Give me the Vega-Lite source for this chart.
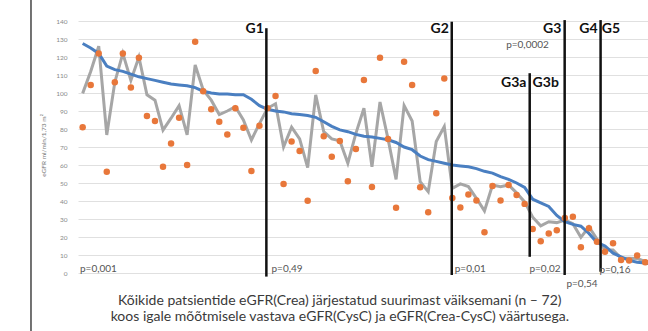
{
  "$schema": "https://vega.github.io/schema/vega-lite/v6.json",
  "width": 570,
  "height": 252,
  "autosize": "none",
  "padding": {"left": 78, "top": 21, "right": 0, "bottom": 58},
  "background": "white",
  "config": {"view": {"stroke": null}, "font": "Lato"},
  "datasets": {
    "pts": [
      {"x":0,"crea":127.5,"cys":81,"crc":99.8},
      {"x":1,"crea":125,"cys":104.4,"crc":112},
      {"x":2,"crea":122,"cys":122,"crc":126},
      {"x":3,"crea":115,"cys":56.3,"crc":76.7},
      {"x":4,"crea":113,"cys":106,"crc":106},
      {"x":5,"crea":112,"cys":122,"crc":122},
      {"x":6,"crea":110.5,"cys":103,"crc":107},
      {"x":7,"crea":109,"cys":119.6,"crc":120},
      {"x":8,"crea":108,"cys":87.2,"crc":99},
      {"x":9,"crea":107,"cys":84.4,"crc":96},
      {"x":10,"crea":106,"cys":59,"crc":79.4},
      {"x":11,"crea":105,"cys":72,"crc":86},
      {"x":12,"crea":104.5,"cys":86.3,"crc":93},
      {"x":13,"crea":104,"cys":60,"crc":76.7},
      {"x":14,"crea":103,"cys":128.5,"crc":115.6},
      {"x":15,"crea":101,"cys":101,"crc":101.7},
      {"x":16,"crea":100,"cys":91,"crc":96},
      {"x":17,"crea":99.5,"cys":84,"crc":88},
      {"x":18,"crea":99.5,"cys":77,"crc":90},
      {"x":19,"crea":99,"cys":91.5,"crc":92.4},
      {"x":20,"crea":99,"cys":80.7,"crc":85},
      {"x":21,"crea":96.5,"cys":56.7,"crc":73.9},
      {"x":22,"crea":93,"cys":81.8,"crc":83},
      {"x":23,"crea":91,"cys":91.5,"crc":91.5},
      {"x":24,"crea":90,"cys":98.3,"crc":94},
      {"x":25,"crea":89.5,"cys":49.4,"crc":70},
      {"x":26,"crea":88.5,"cys":73,"crc":81},
      {"x":27,"crea":88,"cys":67.8,"crc":74.5},
      {"x":28,"crea":87.5,"cys":40.2,"crc":58.5},
      {"x":29,"crea":86.5,"cys":112.2,"crc":99},
      {"x":30,"crea":84,"cys":76,"crc":78.5},
      {"x":31,"crea":81.5,"cys":64.6,"crc":74.5},
      {"x":32,"crea":79.5,"cys":73.3,"crc":73.5},
      {"x":33,"crea":78.5,"cys":51,"crc":61},
      {"x":34,"crea":77,"cys":68.9,"crc":77.6},
      {"x":35,"crea":76,"cys":107.2,"crc":91.5},
      {"x":36,"crea":75.5,"cys":47.8,"crc":59},
      {"x":37,"crea":74.8,"cys":119.6,"crc":95},
      {"x":38,"crea":74,"cys":74.4,"crc":74.5},
      {"x":39,"crea":72.5,"cys":36.3,"crc":52},
      {"x":40,"crea":70,"cys":117.4,"crc":93},
      {"x":41,"crea":68.5,"cys":104.4,"crc":84.4},
      {"x":42,"crea":65,"cys":47.6,"crc":50.7},
      {"x":43,"crea":63,"cys":33.7,"crc":45.2},
      {"x":44,"crea":62,"cys":88.7,"crc":73},
      {"x":45,"crea":61,"cys":108,"crc":81.3},
      {"x":46,"crea":60,"cys":41.7,"crc":47},
      {"x":47,"crea":59.5,"cys":36.4,"crc":49.5},
      {"x":48,"crea":59,"cys":43.6,"crc":48},
      {"x":49,"crea":58,"cys":40.3,"crc":41.5},
      {"x":50,"crea":56.5,"cys":22.6,"crc":34.5},
      {"x":51,"crea":55.5,"cys":48.3,"crc":48.9},
      {"x":52,"crea":53.5,"cys":40.3,"crc":48},
      {"x":53,"crea":52,"cys":48.9,"crc":48.9},
      {"x":54,"crea":50,"cys":43.3,"crc":44.5},
      {"x":55,"crea":47.5,"cys":38.4,"crc":39.5},
      {"x":56,"crea":41,"cys":24.5,"crc":31},
      {"x":57,"crea":39,"cys":17.7,"crc":26.2},
      {"x":58,"crea":37,"cys":22,"crc":28.5},
      {"x":59,"crea":32,"cys":23.7,"crc":28},
      {"x":60,"crea":28.5,"cys":30.6,"crc":29.4},
      {"x":61,"crea":27,"cys":31.3,"crc":27.4},
      {"x":62,"crea":26,"cys":14.3,"crc":19.8},
      {"x":63,"crea":22,"cys":24.8,"crc":25.7},
      {"x":64,"crea":17,"cys":17.4,"crc":18.8},
      {"x":65,"crea":15,"cys":11.8,"crc":12.8},
      {"x":66,"crea":11,"cys":16.5,"crc":12.8},
      {"x":67,"crea":9,"cys":7.2,"crc":8.2},
      {"x":68,"crea":7,"cys":7,"crc":8.2},
      {"x":69,"crea":6,"cys":9.7,"crc":8},
      {"x":70,"crea":5.5,"cys":6,"crc":6.5},
      {"x":71,"crea":5,"cys":5,"crc":6}
    ],
    "vlines": [
      {"x":22.86,"y":136,"y2":-2},
      {"x":45.93,"y":139.6,"y2":-1.1},
      {"x":55.63,"y":111,"y2":9},
      {"x":59.98,"y":140.5,"y2":-1.1},
      {"x":64.45,"y":140.5,"y2":0.7}
    ],
    "glabR": [
      {"x":22.67,"y":133.6,"t":"G1"},
      {"x":45.7,"y":133.6,"t":"G2"},
      {"x":59.7,"y":133.6,"t":"G3"},
      {"x":64.2,"y":133.6,"t":"G4"},
      {"x":55.35,"y":103.5,"t":"G3a"}
    ],
    "glabL": [
      {"x":64.6,"y":133.6,"t":"G5"},
      {"x":55.99,"y":103.5,"t":"G3b"}
    ],
    "plab": [
      {"x":-0.33,"y":0.5,"t":"p=0,001"},
      {"x":23.5,"y":0.5,"t":"p=0,49"},
      {"x":46.3,"y":0.5,"t":"p=0,01"},
      {"x":55.6,"y":0.5,"t":"p=0,02"},
      {"x":60.2,"y":-7.8,"t":"p=0,54"},
      {"x":64.3,"y":0,"t":"p=0,16"},
      {"x":52.7,"y":125,"t":"p=0,0002"}
    ],
    "caption": [
      {"x":32,"y":-15.5,"t":"Kõikide patsientide eGFR(Crea) järjestatud suurimast väiksemani (n – 72)"},
      {"x":32,"y":-24.4,"t":"koos igale mõõtmisele vastava eGFR(CysC) ja eGFR(Crea-CysC) väärtusega."}
    ],
    "border": [{"x":-6.43,"y":165,"y2":-40}]
  },
  "encoding": {
    "x": {"field": "x", "type": "quantitative", "scale": {"domain": [-0.58, 70.35], "nice": false, "zero": false}, "axis": null},
    "y": {"field": "y", "type": "quantitative", "scale": {"domain": [0, 140], "nice": false, "zero": false},
      "axis": {"values": [0,10,20,30,40,50,60,70,80,90,100,110,120,130,140], "grid": true, "gridColor": "#e0e0e0", "gridWidth": 1, "domain": false, "ticks": false,
        "labelOverlap": false, "labelFontSize": 6.5, "labelColor": "#8a8a8a", "labelPadding": 11, "labelFont": "Lato",
        "title": "eGFR ml/min/1,73 m²", "titleFontSize": 6.5, "titleFontWeight": "normal", "titleColor": "#777777",
        "titleX": -35, "titleY": 124, "titleAngle": -90, "titleAlign": "center", "titleBaseline": "middle"}}
  },
  "layer": [
    {
      "data": {"name": "pts"},
      "transform": [{"fold": ["crc"], "as": ["s", "y"]}],
      "mark": {"type": "line", "color": "#a6a6a6", "strokeWidth": 3, "clip": true}
    },
    {
      "data": {"name": "pts"},
      "transform": [{"fold": ["crea"], "as": ["s", "y"]}],
      "mark": {"type": "line", "color": "#4a7fc1", "strokeWidth": 3, "clip": true}
    },
    {
      "data": {"name": "pts"},
      "transform": [{"fold": ["cys"], "as": ["s", "y"]}],
      "mark": {"type": "circle", "color": "#e8773a", "size": 42, "opacity": 1, "clip": true}
    },
    {
      "data": {"name": "vlines"},
      "mark": {"type": "rule", "color": "#111111", "strokeWidth": 2.5},
      "encoding": {"y2": {"field": "y2"}}
    },
    {
      "data": {"name": "border"},
      "mark": {"type": "rule", "color": "#444444", "strokeWidth": 1.5},
      "encoding": {"y2": {"field": "y2"}}
    },
    {
      "data": {"name": "glabR"},
      "mark": {"type": "text", "align": "right", "baseline": "alphabetic", "fontWeight": "bold", "fontSize": 14, "font": "Lato", "color": "#111111", "dx": -1},
      "encoding": {"text": {"field": "t"}}
    },
    {
      "data": {"name": "glabL"},
      "mark": {"type": "text", "align": "left", "baseline": "alphabetic", "fontWeight": "bold", "fontSize": 14, "font": "Lato", "color": "#111111"},
      "encoding": {"text": {"field": "t"}}
    },
    {
      "data": {"name": "plab"},
      "mark": {"type": "text", "align": "left", "baseline": "alphabetic", "fontSize": 10, "font": "Lato", "color": "#555555"},
      "encoding": {"text": {"field": "t"}}
    },
    {
      "data": {"name": "caption"},
      "mark": {"type": "text", "align": "center", "baseline": "middle", "fontSize": 14, "font": "Lato", "color": "#3a3a3a"},
      "encoding": {"text": {"field": "t"}}
    }
  ]
}
